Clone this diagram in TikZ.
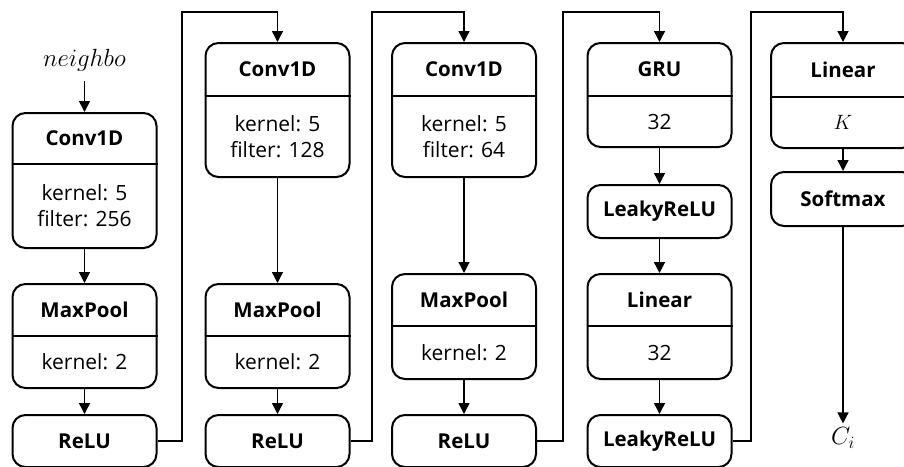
\documentclass[tikz,border=0pt]{standalone}
\usepackage{fontspec}
\setmainfont{Open Sans}
\usetikzlibrary{arrows.meta}
\tikzset{
  box/.style={draw, line width=2pt, rounded corners=13pt, minimum width=144pt, inner sep=0pt},
  ttl/.style={font=\bfseries\fontsize{20.5}{24}\selectfont, inner sep=0pt},
  bdy/.style={font=\fontsize{21}{26}\selectfont, align=center, inner sep=0pt},
  mth/.style={font=\fontsize{24}{28}\selectfont, inner sep=2pt},
  div/.style={line width=2pt},
  conn/.style={line width=1.4pt},
  arr/.style={line width=1.4pt, -{Triangle[length=11pt,width=11pt]}},
}
\begin{document}
\begin{tikzpicture}[x=1pt,y=-1pt]
\path[use as bounding box] (0,0) rectangle (904,466);
\clip (0,0) rectangle (904,466);

% ---------- column 1 ----------
\node[mth] (nb) at (84.5,60) {$neighbo$};
\node[box, minimum height=135pt] (c1) at (84.5,180.5) {};
\node[ttl] (c1t) at (84.5,138.5) {Conv1D};
\node[bdy] (c1b) at (84.5,206) {kernel: 5\\filter: 256};
\draw[div] (c1.west |- 0,164) -- (c1.east |- 0,164);

\node[box, minimum height=104pt] (m1) at (84.5,336) {};
\node[ttl] (m1t) at (84.5,310) {MaxPool};
\node[bdy] (m1b) at (84.5,362) {kernel: 2};
\draw[div] (m1.west |- 0,336) -- (m1.east |- 0,336);

\node[box, minimum height=52pt] (r1) at (84.5,441) {};
\node[ttl] (r1t) at (84.5,441) {ReLU};

% ---------- column 2 ----------
\node[box, minimum height=134pt] (c2) at (277.5,110) {};
\node[ttl] (c2t) at (277.5,69.5) {Conv1D};
\node[bdy] (c2b) at (277.5,136.5) {kernel: 5\\filter: 128};
\draw[div] (c2.west |- 0,96) -- (c2.east |- 0,96);

\node[box, minimum height=104pt] (m2) at (277.5,336) {};
\node[ttl] (m2t) at (277.5,310) {MaxPool};
\node[bdy] (m2b) at (277.5,362) {kernel: 2};
\draw[div] (m2.west |- 0,336) -- (m2.east |- 0,336);

\node[box, minimum height=52pt] (r2) at (277.5,441) {};
\node[ttl] (r2t) at (277.5,441) {ReLU};

% ---------- column 3 ----------
\node[box, minimum height=134pt] (c3) at (464,110) {};
\node[ttl] (c3t) at (464,69.5) {Conv1D};
\node[bdy] (c3b) at (464,136.5) {kernel: 5\\filter: 64};
\draw[div] (c3.west |- 0,96) -- (c3.east |- 0,96);

\node[box, minimum height=105pt] (m3) at (464,326.5) {};
\node[ttl] (m3t) at (464,300) {MaxPool};
\node[bdy] (m3b) at (464,352.5) {kernel: 2};
\draw[div] (m3.west |- 0,326) -- (m3.east |- 0,326);

\node[box, minimum height=52pt] (r3) at (464,441) {};
\node[ttl] (r3t) at (464,441) {ReLU};

% ---------- column 4 ----------
\node[box, minimum height=104pt] (g4) at (659.5,95) {};
\node[ttl] (g4t) at (659.5,69.5) {GRU};
\node[bdy] (g4b) at (659.5,121.5) {32};
\draw[div] (g4.west |- 0,96) -- (g4.east |- 0,96);

\node[box, minimum height=53pt] (k4) at (659.5,211.5) {};
\node[ttl] (k4t) at (659.5,211.5) {LeakyReLU};

\node[box, minimum height=105pt] (l4) at (659.5,326.5) {};
\node[ttl] (l4t) at (659.5,300) {Linear};
\node[bdy] (l4b) at (659.5,352.5) {32};
\draw[div] (l4.west |- 0,326) -- (l4.east |- 0,326);

\node[box, minimum height=52pt] (r4) at (659.5,441) {};
\node[ttl] (r4t) at (659.5,441) {LeakyReLU};

% ---------- column 5 ----------
\node[box, minimum height=105pt] (l5) at (843,95.5) {};
\node[ttl] (l5t) at (843,70) {Linear};
\node[mth, font=\fontsize{22}{26}\selectfont] (l5b) at (843,122.5) {$K$};
\draw[div] (l5.west |- 0,97) -- (l5.east |- 0,97);

\node[box, minimum height=54pt] (s5) at (843,199) {};
\node[ttl] (s5t) at (843,199) {Softmax};

\node[mth] (ci) at (843,438) {$C_i$};

% ---------- connectors ----------
\coordinate (t1) at (182,12);
\coordinate (t2) at (372,12);
\coordinate (t3) at (563,12);
\coordinate (t4) at (751,12);

\draw[arr, shorten <=8pt] (nb.south) -- (c1.north);
\draw[arr] (c1.south) -- (m1.north);
\draw[arr] (m1.south) -- (r1.north);
\draw[arr] (r1.east) -| (t1) -| (c2.north);

\draw[arr] (c2.south) -- (m2.north);
\draw[arr] (m2.south) -- (r2.north);
\draw[arr] (r2.east) -| (t2) -| (c3.north);

\draw[arr] (c3.south) -- (m3.north);
\draw[arr] (m3.south) -- (r3.north);
\draw[arr] (r3.east) -| (t3) -| (g4.north);

\draw[arr] (g4.south) -- (k4.north);
\draw[arr] (k4.south) -- (l4.north);
\draw[arr] (l4.south) -- (r4.north);
\draw[arr] (r4.east) -| (t4) -| (l5.north);

\draw[arr] (l5.south) -- (s5.north);
\draw[arr, shorten >=2pt] (s5.south) -- (ci.north);
\end{tikzpicture}
\end{document}
